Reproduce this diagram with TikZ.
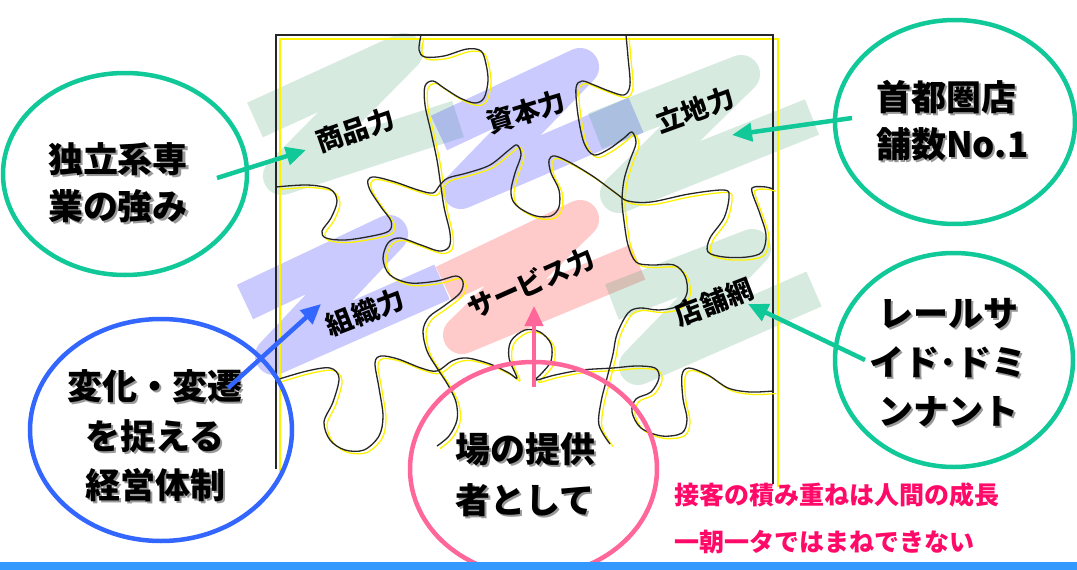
\documentclass[tikz,border=0pt]{standalone}
\usepackage{fontspec}
\setmainfont{Noto Sans CJK JP}
\usetikzlibrary{arrows.meta,shapes.geometric}
\definecolor{cgreen}{HTML}{10C898}
\definecolor{cblue}{HTML}{3366FF}
\definecolor{cpink}{HTML}{FF6699}
\definecolor{tpink}{HTML}{FF0A68}
\definecolor{barblue}{HTML}{3399FF}
\definecolor{zgreen}{RGB}{51,153,102}
\definecolor{zblue}{RGB}{80,80,255}
\definecolor{zpink}{RGB}{255,80,80}
\newcommand\shd[1]{\makebox[0pt][l]{\kern2pt\raisebox{-2pt}{\textcolor{black!40}{#1}}}#1}
\tikzset{
  zs/.style={line width=38pt, line cap=butt, line join=round, draw opacity=#1},
  blackline/.style={draw=black!85, line width=1.3pt},
  yellowline/.style={draw=yellow, line width=1.3pt},
  lbl/.style={inner sep=0pt, font=\bfseries\fontsize{27}{30}\selectfont},
  ctext/.style={inner sep=0pt, align=center, font=\bfseries\fontsize{35}{#1}\selectfont},
  ring/.style={ellipse, draw=#1, line width=4.5pt, inner sep=0pt},
  conn/.style={draw=#1, line width=4.5pt, -{Triangle[length=20pt,width=18pt]}},
}
\newcommand\puzzlecurves[1]{%
\draw[#1] plot[smooth, tension=0.55] coordinates {(421,35) (419,50) (425,57) (444,56) (467,49) (481,51) (486,64) (488,81) (484,98) (475,103) (460,98) (444,88) (433,81) (425,86) (425,105) (431,132) (437,160) (440,180) (444,207) (450,233) (449,247) (439,251) (421,245) (400,238) (388,243) (383,259) (390,275) (410,283) (437,281) (456,276) (463,282) (460,293) (444,306) (429,317) (423,331) (427,351) (437,368) (448,385) (456,402) (457,420) (449,436) (437,446)};
\draw[#1] plot[smooth, tension=0.55] coordinates {(276,187) (307,185) (330,189) (337,201) (331,218) (322,231) (326,238) (345,240) (372,236) (389,231) (391,221) (381,207) (370,190) (368,180) (375,177) (395,182) (418,190) (433,193) (440,185) (448,178) (467,173) (490,165) (509,150) (517,145) (521,155) (515,173) (511,190) (513,201) (521,209) (536,216) (551,216) (559,207) (559,190) (551,173) (549,160) (555,156) (571,163) (594,177) (617,194) (628,201) (651,202) (689,194) (724,190) (729,197) (724,218) (710,238) (708,252) (724,257) (747,257) (762,252) (766,235) (760,214) (752,192) (754,187) (766,187) (773,189)};
\draw[#1] plot[smooth, tension=0.55] coordinates {(626,35) (628,57) (630,85) (624,95) (609,91) (594,85) (582,81) (576,88) (578,115) (584,143) (594,155) (609,149) (624,138) (632,132) (636,143) (630,160) (624,180) (622,201) (624,221) (628,245) (636,262) (651,265) (674,265) (685,276) (687,293) (678,306) (659,310) (640,308) (628,313) (617,334) (613,354) (607,378) (601,402) (599,425) (610,444)};
\draw[#1] plot[smooth, tension=0.55] coordinates {(276,380) (307,371) (330,368) (339,378) (333,402) (324,422) (330,440) (345,450) (364,450) (379,436) (383,416) (379,388) (375,363) (381,356) (398,359) (421,368) (437,371) (452,361) (467,358) (490,364) (509,373) (517,378) (509,358) (511,341) (525,330) (540,332) (551,344) (551,361) (542,373) (536,380) (555,375) (582,370) (613,368) (636,366) (655,368) (659,378) (651,392) (636,399) (632,412) (641,428) (662,436) (682,433) (687,419) (683,399) (682,375) (689,368) (708,375) (728,388) (750,392) (773,391)};
}
\begin{document}
\begin{tikzpicture}[x=1pt,y=-1pt]
\useasboundingbox (0,0) rectangle (1077,570);
\fill[white] (0,0) rectangle (1077,570);
% brush strokes
\draw[zs=0.2, zgreen] (255,120) -- (404,52) -- (282,176) -- (458,119);
\draw[zs=0.3, zblue] (439,133) -- (580,67) -- (461,190) -- (636,115);
\draw[zs=0.2, zgreen] (595,131) -- (741,74) -- (619,194) -- (812,117);
\draw[zs=0.3, zblue] (245,302) -- (389,234) -- (274,356) -- (442,282);
\draw[zs=0.3, zpink] (444,284) -- (580,219) -- (462,335) -- (638,262);
\draw[zs=0.2, zgreen] (612,302) -- (752,248) -- (638,366) -- (814,289);
% frame
\draw[yellowline] (280,472) -- (280,39) -- (778,39) -- (778,487);
\draw[blackline, line width=1.2pt] (276,469) -- (276,35) -- (773,35) -- (773,484);
% puzzle lines
\puzzlecurves{yellowline, shift={(3,2.5)}}
\puzzlecurves{blackline}
% labels
\node[lbl, rotate=19] (shohin) at (355,130) {商品力};
\node[lbl, rotate=17] (shihon) at (526,112) {資本力};
\node[lbl, rotate=20] (ricchi) at (695,110) {立地力};
\node[lbl, rotate=21] (soshiki) at (365,312) {組織力};
\node[lbl, rotate=24] (service) at (531,283) {サービス力};
\node[lbl, rotate=21] (tenpo) at (714,302) {店舗網};
% circles
\node[ring=cgreen, minimum width=244pt, minimum height=202pt] (c1) at (125,174) {};
\node[ring=cgreen, minimum width=240pt, minimum height=204pt] (c2) at (955,122) {};
\node[ring=cgreen, minimum width=238pt, minimum height=214pt] (c3) at (954,360) {};
\node[ring=cblue, minimum width=262pt, minimum height=222pt] (c4) at (161,430) {};
\node[ring=cpink, minimum width=247pt, minimum height=214pt] (c5) at (533.5,469) {};
% circle texts
\node[ctext=47] (t1) at (118,183.5) {\shd{独立系専}\\\shd{業の強み}};
\node[ctext=47, align=left, anchor=west] (t2) at (876,121.5) {\shd{首都圏店}\\\shd{舗数No.1}};
\node[ctext=49] (t3) at (948,364) {\shd{レールサ}\\\shd{イド･ドミ}\\\shd{ンナント}};
\node[ctext=49.5] (t4) at (155,437) {\shd{変化・変遷}\\\shd{を捉える}\\\shd{経営体制}};
\node[ctext=51] (t5) at (525,475.5) {\shd{場の提供}\\\shd{者として}};
% arrows
\coordinate (a1s) at (217,178); \coordinate (a1e) at (306,150);
\coordinate (a2s) at (852,118); \coordinate (a2e) at (732,135);
\coordinate (a3s) at (865,360); \coordinate (a3e) at (748,304);
\coordinate (a4s) at (228,388); \coordinate (a4e) at (321,304);
\coordinate (a5s) at (534,387); \coordinate (a5e) at (534,306);
\draw[conn=cgreen] (a1s) -- (a1e);
\draw[conn=cgreen] (a2s) -- (a2e);
\draw[conn=cgreen] (a3s) -- (a3e);
\draw[conn=cblue] (a4s) -- (a4e);
\draw[conn=cpink] (a5s) -- (a5e);
% pink note
\node[inner sep=0pt, anchor=west, align=left, text=tpink, font=\bfseries\fontsize{25}{47}\selectfont] (note) at (674,518.5) {接客の積み重ねは人間の成長\\一朝一タではまねできない};
% bottom bar
\fill[barblue] (0,562) rectangle (1077,570);
\end{tikzpicture}
\end{document}
